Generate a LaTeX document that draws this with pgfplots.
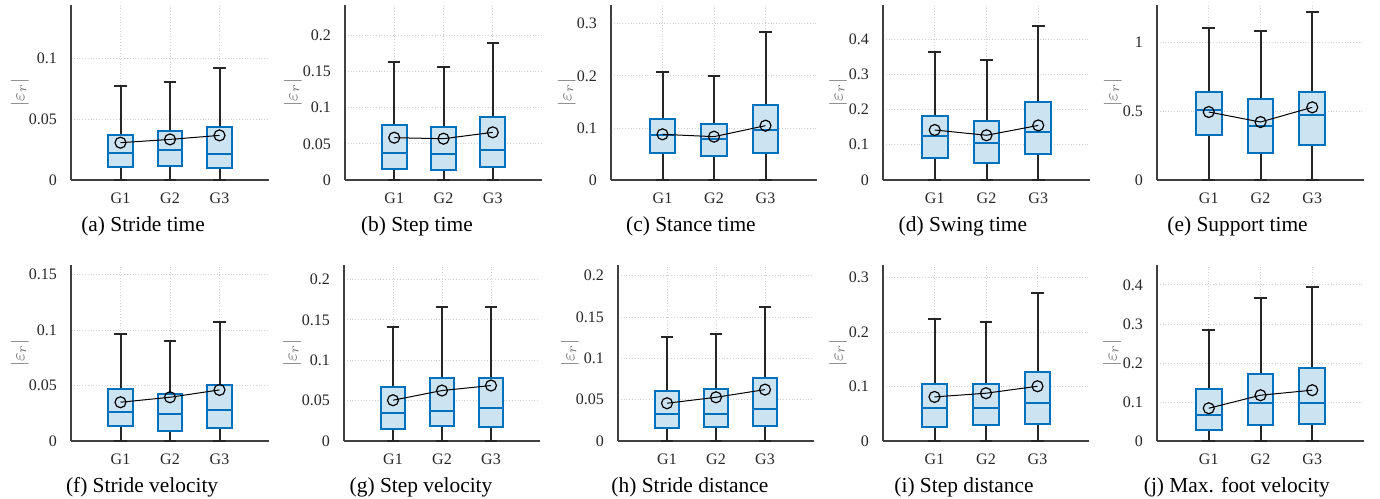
\documentclass[border=0pt]{standalone}
\usepackage{fontspec}
\setmainfont{Liberation Serif}
\usepackage{pgfplots}
\pgfplotsset{compat=1.18}
\usepgfplotslibrary{statistics}
\definecolor{mblue}{HTML}{0072BD}
\pgfplotsset{
  boxplot/box extend=0.5,
  boxplot/whisker extend=0.25,
  boxplot/every box/.style={draw=mblue, fill=mblue!20, line width=1pt},
  boxplot/every whisker/.style={draw=black!85, line width=1pt},
  boxplot/every median/.style={draw=mblue, line width=1pt},
  meanstyle/.style={black, line width=0.5pt, mark=o, mark size=2.75pt, mark options={solid, line width=0.6pt}},
  panel/.style={
    scale only axis, xmin=0, xmax=4, ymin=0,
    xtick={1,2,3}, xticklabels={G1,G2,G3},
    axis x line*=bottom, axis y line*=left,
    axis line style={black!75, line width=0.6pt, -},
    major tick length=0pt,
    grid=major, grid style={densely dotted, black!18, line width=0.4pt},
    tick label style={font=\fontsize{8}{9}\selectfont, text=black!85},
    /pgf/number format/assume math mode=true,
    yticklabel style={/pgf/number format/fixed, xshift=-3.5pt},
    xticklabel style={yshift=-3pt},
    ylabel={$|\varepsilon_r|$},
    ylabel style={anchor=center, text=black!55, font=\fontsize{9.5}{10}\selectfont},
    xlabel style={anchor=center, font=\fontsize{10.7}{12}\selectfont, text=black},
    clip=false,
  },
  cap/.style 2 args={xlabel style={at={(axis description cs:#1,0)}, yshift=-23pt}, ylabel style={at={(axis description cs:-#2,0.5)}}},
}
\newcommand{\bx}[5]{\addplot[draw=mblue, boxplot prepared={draw direction=y, draw position=#1, lower whisker=0, lower quartile=#2, median=#3, upper quartile=#4, upper whisker=#5}] coordinates {};}
\begin{document}
\begin{tikzpicture}
\useasboundingbox (0,0) rectangle (690pt,249pt);
% (a)
\begin{axis}[panel, at={(35.5pt,159pt)}, anchor=south west, width=99pt, height=87.5pt, ymax=0.144, ytick={0,0.05,0.1}, xlabel={(a) Stride time}, cap={0.364}{0.258}]
\bx{1}{0.011}{0.0219}{0.0373}{0.0773}
\bx{2}{0.0118}{0.0244}{0.040}{0.0808}
\bx{3}{0.0101}{0.0211}{0.0433}{0.0923}
\addplot[meanstyle] coordinates {(1,0.0307) (2,0.0334) (3,0.0367)};
\end{axis}
% (b)
\begin{axis}[panel, at={(172.5pt,159pt)}, anchor=south west, width=98.5pt, height=87.5pt, ymax=0.242, ytick={0,0.05,0.1,0.15,0.2}, xlabel={(b) Step time}, cap={0.365}{0.264}]
\bx{1}{0.0157}{0.0378}{0.0756}{0.163}
\bx{2}{0.0143}{0.036}{0.0728}{0.1567}
\bx{3}{0.0184}{0.041}{0.0871}{0.1894}
\addplot[meanstyle] coordinates {(1,0.0585) (2,0.0571) (3,0.0659)};
\end{axis}
% (c)
\begin{axis}[panel, at={(305.5pt,159pt)}, anchor=south west, width=103pt, height=87.5pt, ymax=0.336, ytick={0,0.1,0.2,0.3}, xlabel={(c) Stance time}, cap={0.388}{0.214}]
\bx{1}{0.0525}{0.087}{0.1177}{0.2066}
\bx{2}{0.046}{0.078}{0.108}{0.1996}
\bx{3}{0.0525}{0.096}{0.1446}{0.284}
\addplot[meanstyle] coordinates {(1,0.0877) (2,0.0832) (3,0.1043)};
\end{axis}
% (d)
\begin{axis}[panel, at={(441.5pt,159pt)}, anchor=south west, width=103.5pt, height=87.5pt, ymax=0.497, ytick={0,0.1,0.2,0.3,0.4}, xlabel={(d) Swing time}, cap={0.386}{0.217}]
\bx{1}{0.0616}{0.125}{0.183}{0.364}
\bx{2}{0.049}{0.104}{0.168}{0.340}
\bx{3}{0.073}{0.137}{0.222}{0.438}
\addplot[meanstyle] coordinates {(1,0.142) (2,0.127) (3,0.155)};
\end{axis}
% (e)
\begin{axis}[panel, at={(578.5pt,159pt)}, anchor=south west, width=103.5pt, height=87.5pt, ymax=1.274, ytick={0,0.5,1}, xlabel={(e) Support time}, cap={0.389}{0.213}]
\bx{1}{0.328}{0.507}{0.643}{1.104}
\bx{2}{0.194}{0.393}{0.590}{1.085}
\bx{3}{0.252}{0.473}{0.643}{1.221}
\addplot[meanstyle] coordinates {(1,0.495) (2,0.422) (3,0.529)};
\end{axis}
% (f)
\begin{axis}[panel, at={(35.5pt,28.5pt)}, anchor=south west, width=99pt, height=88pt, ymax=0.1585, ytick={0,0.05,0.1,0.15}, xlabel={(f) Stride velocity}, cap={0.359}{0.258}]
\bx{1}{0.0138}{0.0262}{0.0472}{0.0968}
\bx{2}{0.009}{0.0244}{0.0424}{0.0902}
\bx{3}{0.012}{0.0277}{0.0502}{0.1073}
\addplot[meanstyle] coordinates {(1,0.0349) (2,0.0394) (3,0.046)};
\end{axis}
% (g)
\begin{axis}[panel, at={(172pt,28.5pt)}, anchor=south west, width=98pt, height=88pt, ymax=0.218, ytick={0,0.05,0.1,0.15,0.2}, xlabel={(g) Step velocity}, cap={0.393}{0.265}]
\bx{1}{0.0153}{0.0352}{0.0667}{0.1412}
\bx{2}{0.0186}{0.0369}{0.0783}{0.1665}
\bx{3}{0.0178}{0.0414}{0.0783}{0.1665}
\addplot[meanstyle] coordinates {(1,0.0505) (2,0.0625) (3,0.0687)};
\end{axis}
% (h)
\begin{axis}[panel, at={(309pt,28.5pt)}, anchor=south west, width=98pt, height=88pt, ymax=0.213, ytick={0,0.05,0.1,0.15,0.2}, xlabel={(h) Stride distance}, cap={0.367}{0.245}]
\bx{1}{0.0162}{0.0323}{0.0602}{0.1253}
\bx{2}{0.017}{0.0327}{0.0626}{0.1293}
\bx{3}{0.0186}{0.0384}{0.076}{0.1616}
\addplot[meanstyle] coordinates {(1,0.0457) (2,0.0529) (3,0.0622)};
\end{axis}
% (i)
\begin{axis}[panel, at={(441.5pt,28.5pt)}, anchor=south west, width=103pt, height=88pt, ymax=0.3227, ytick={0,0.1,0.2,0.3}, xlabel={(i) Step distance}, cap={0.393}{0.218}]
\bx{1}{0.0251}{0.060}{0.1053}{0.2229}
\bx{2}{0.0294}{0.0612}{0.1047}{0.2174}
\bx{3}{0.0318}{0.0704}{0.1274}{0.2707}
\addplot[meanstyle] coordinates {(1,0.0808) (2,0.0876) (3,0.1004)};
\end{axis}
% (j)
\begin{axis}[panel, at={(578.5pt,28.5pt)}, anchor=south west, width=103.5pt, height=88pt, ymax=0.451, ytick={0,0.1,0.2,0.3,0.4}, xlabel={(j) Max. foot velocity}, cap={0.386}{0.217}]
\bx{1}{0.0291}{0.0668}{0.1336}{0.2835}
\bx{2}{0.0403}{0.0976}{0.1705}{0.3657}
\bx{3}{0.0445}{0.0968}{0.1867}{0.3957}
\addplot[meanstyle] coordinates {(1,0.0839) (2,0.1173) (3,0.1302)};
\end{axis}
\end{tikzpicture}
\end{document}
